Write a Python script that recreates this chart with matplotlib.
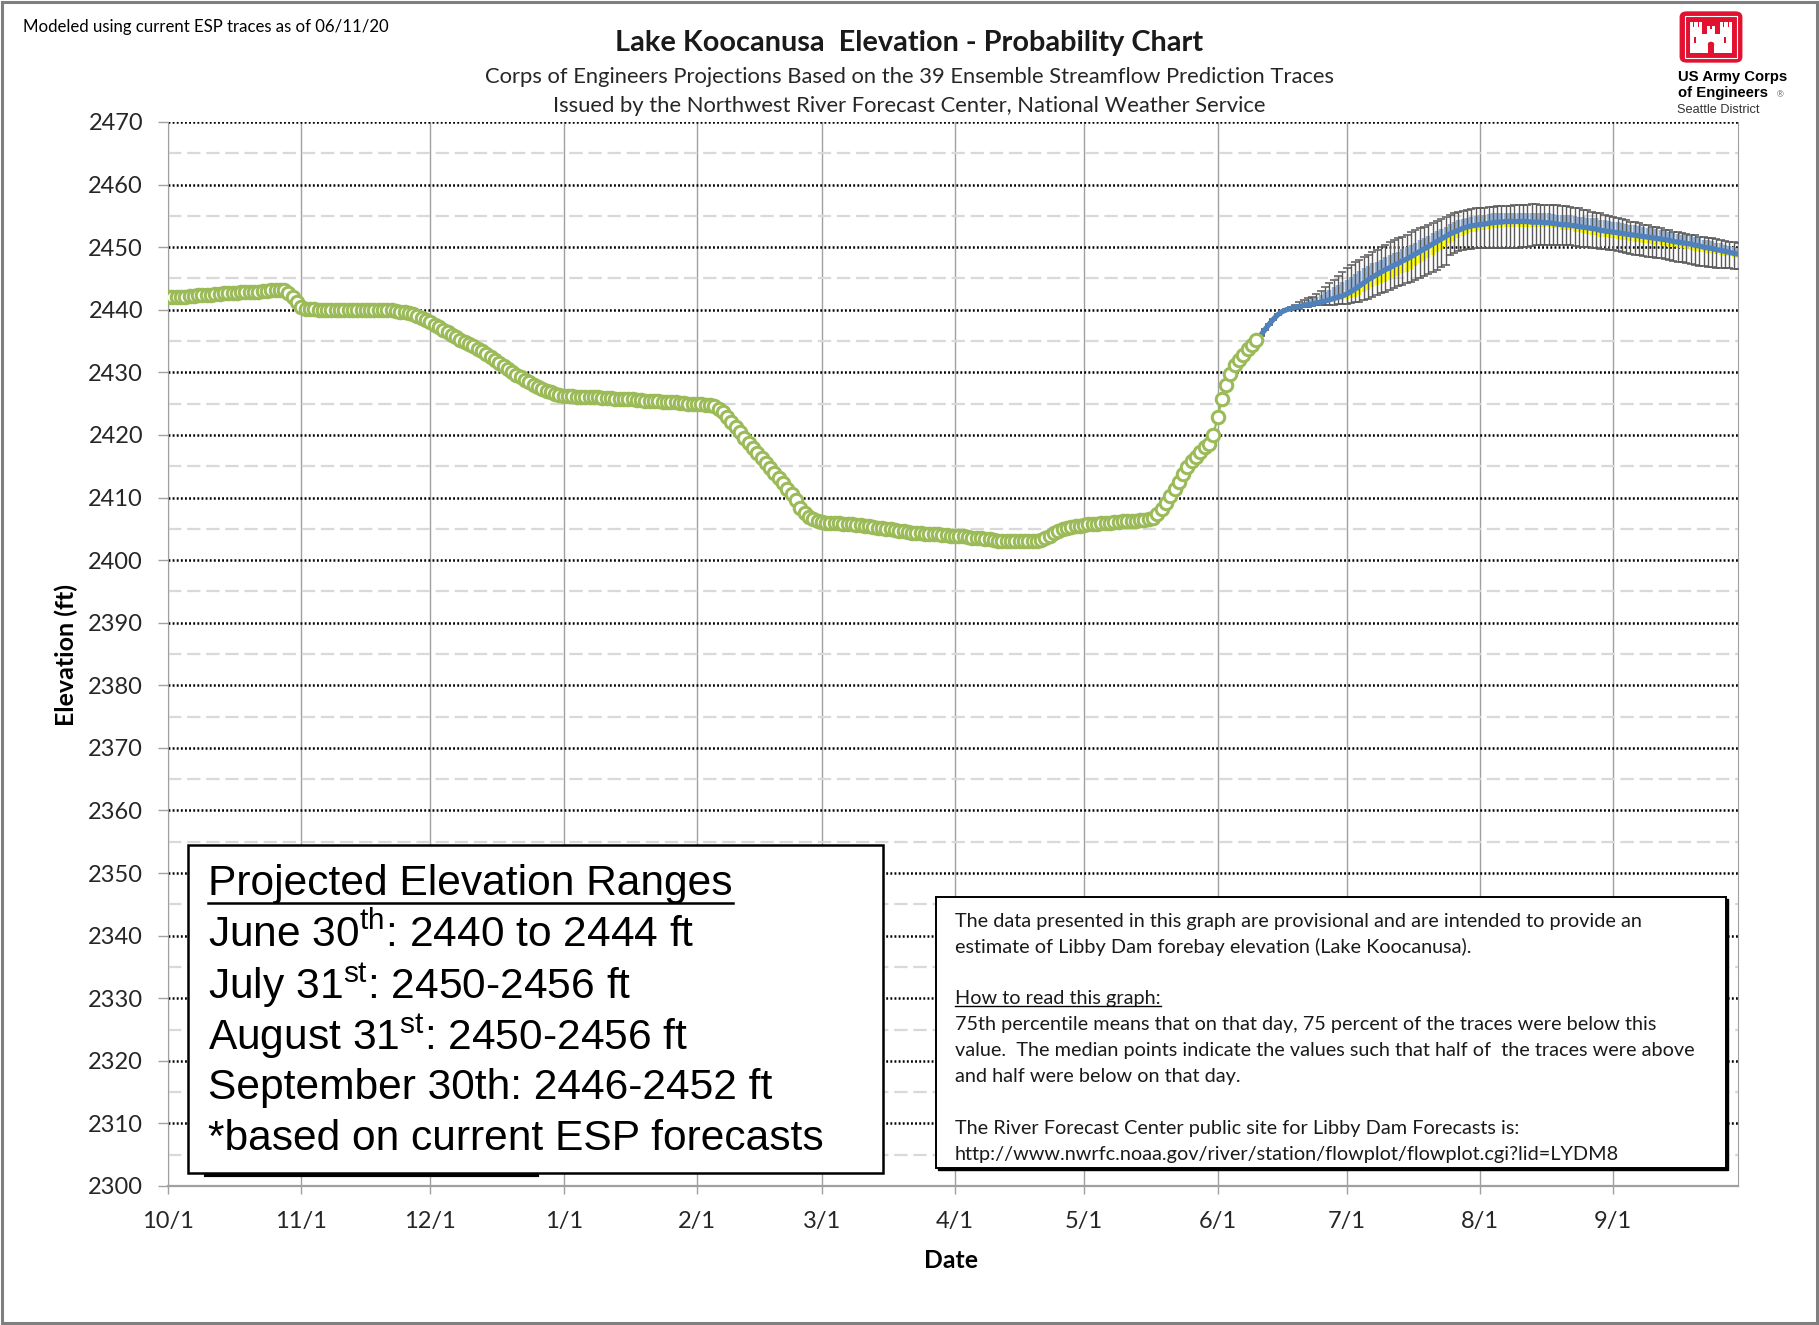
import matplotlib
matplotlib.use('Agg')
import numpy as np
import matplotlib.pyplot as plt
from matplotlib import patches, font_manager
from matplotlib.lines import Line2D

# ---------------- data ----------------
month_days = [0, 31, 61, 92, 123, 152, 183, 213, 244, 274, 305, 336]
month_labels = ['10/1', '11/1', '12/1', '1/1', '2/1', '3/1', '4/1', '5/1',
                '6/1', '7/1', '8/1', '9/1']
y_ticks = list(range(2300, 2471, 10))

# observed daily forebay elevation, day 0 = 10/1/2019
observed = [
    2442.0, 2442.0, 2442.1, 2442.1, 2442.1, 2442.2, 2442.2, 2442.3, 2442.3, 2442.4,
    2442.4, 2442.5, 2442.5, 2442.6, 2442.6, 2442.7, 2442.7, 2442.8, 2442.8, 2442.8,
    2442.9, 2442.9, 2443.0, 2443.0, 2443.1, 2443.1, 2443.2, 2443.1, 2442.7, 2442.0,
    2441.2, 2440.5, 2440.2, 2440.1, 2440.1, 2440.0, 2440.0, 2440.0, 2440.0, 2440.0,
    2440.0, 2440.0, 2439.9, 2440.0, 2440.0, 2439.9, 2439.9, 2439.9, 2440.0, 2439.9,
    2439.9, 2439.9, 2439.9, 2439.8, 2439.7, 2439.6, 2439.5, 2439.3, 2439.0, 2438.7,
    2438.4, 2438.0, 2437.6, 2437.2, 2436.8, 2436.4, 2436.0, 2435.6, 2435.2, 2434.9,
    2434.6, 2434.2, 2433.8, 2433.4, 2433.0, 2432.5, 2432.0, 2431.5, 2431.0, 2430.5,
    2430.0, 2429.6, 2429.2, 2428.8, 2428.4, 2428.0, 2427.6, 2427.3, 2427.0, 2426.8,
    2426.6, 2426.4, 2426.3, 2426.2, 2426.2, 2426.1, 2426.1, 2426.1, 2426.0, 2426.0,
    2426.0, 2425.9, 2425.9, 2425.9, 2425.8, 2425.8, 2425.7, 2425.7, 2425.7, 2425.6,
    2425.6, 2425.5, 2425.5, 2425.4, 2425.4, 2425.3, 2425.3, 2425.2, 2425.2, 2425.1,
    2425.1, 2425.0, 2425.0, 2424.9, 2424.9, 2424.8, 2424.8, 2424.6, 2424.2, 2423.6,
    2422.8, 2422.0, 2421.2, 2420.4, 2419.5, 2418.7, 2417.9, 2417.1, 2416.3, 2415.5,
    2414.7, 2413.9, 2413.1, 2412.3, 2411.4, 2410.5, 2409.6, 2408.4, 2407.5, 2406.9,
    2406.5, 2406.3, 2406.1, 2406.0, 2406.0, 2405.9, 2405.9, 2405.8, 2405.8, 2405.7,
    2405.6, 2405.6, 2405.5, 2405.4, 2405.3, 2405.2, 2405.1, 2405.0, 2404.9, 2404.8,
    2404.7, 2404.6, 2404.5, 2404.4, 2404.3, 2404.3, 2404.2, 2404.2, 2404.1, 2404.1,
    2404.0, 2404.0, 2403.9, 2403.9, 2403.8, 2403.8, 2403.7, 2403.6, 2403.6, 2403.5,
    2403.4, 2403.3, 2403.2, 2403.1, 2403.1, 2403.1, 2403.1, 2403.1, 2403.1, 2403.1,
    2403.1, 2403.1, 2403.1, 2403.2, 2403.5, 2403.9, 2404.3, 2404.7, 2405.0, 2405.2,
    2405.3, 2405.4, 2405.5, 2405.6, 2405.7, 2405.8, 2405.8, 2405.9, 2405.9, 2406.0,
    2406.1, 2406.1, 2406.2, 2406.2, 2406.3, 2406.3, 2406.4, 2406.4, 2406.5, 2406.8,
    2407.4, 2408.2, 2409.1, 2410.2, 2411.3, 2412.5, 2413.8, 2414.9, 2415.8, 2416.5,
    2417.3, 2418.0, 2418.6, 2420.0, 2422.8, 2425.7, 2428.0, 2429.7, 2431.1, 2432.0,
    2432.8, 2433.7, 2434.4, 2435.1,
]

# ESP forecast statistics, first value is day 253 (6/10)
fc_start = 253
fc_median = [
    2435.1, 2435.9, 2436.8, 2437.7, 2438.5, 2439.2, 2439.7, 2440.0, 2440.2, 2440.4,
    2440.5, 2440.7, 2440.8, 2440.9, 2441.1, 2441.2, 2441.4, 2441.6, 2441.8, 2442.0,
    2442.2, 2442.5, 2442.9, 2443.3, 2443.8, 2444.3, 2444.8, 2445.2, 2445.6, 2446.0,
    2446.4, 2446.7, 2447.1, 2447.4, 2447.8, 2448.1, 2448.5, 2448.9, 2449.3, 2449.7,
    2450.1, 2450.5, 2450.9, 2451.3, 2451.7, 2452.1, 2452.4, 2452.7, 2453.0, 2453.2,
    2453.4, 2453.5, 2453.6, 2453.7, 2453.8, 2453.9, 2454.0, 2454.0, 2454.1, 2454.1,
    2454.1, 2454.1, 2454.1, 2454.1, 2454.0, 2454.0, 2454.0, 2453.9, 2453.9, 2453.8,
    2453.7, 2453.6, 2453.6, 2453.5, 2453.4, 2453.3, 2453.2, 2453.1, 2453.0, 2452.9,
    2452.7, 2452.6, 2452.5, 2452.4, 2452.3, 2452.2, 2452.1, 2452.0, 2451.9, 2451.8,
    2451.7, 2451.6, 2451.5, 2451.4, 2451.3, 2451.2, 2451.1, 2450.9, 2450.8, 2450.7,
    2450.6, 2450.5, 2450.3, 2450.2, 2450.0, 2449.9, 2449.8, 2449.6, 2449.5, 2449.3,
    2449.2, 2449.0, 2448.9,
]
fc_p75 = [
    2435.1, 2435.9, 2436.8, 2437.7, 2438.5, 2439.2, 2439.7, 2440.1, 2440.4, 2440.7,
    2440.9, 2441.3, 2441.5, 2441.8, 2442.1, 2442.4, 2442.8, 2443.2, 2443.6, 2444.0,
    2444.4, 2444.8, 2445.3, 2445.7, 2446.2, 2446.6, 2447.0, 2447.4, 2447.7, 2448.0,
    2448.4, 2448.7, 2449.0, 2449.3, 2449.7, 2450.0, 2450.3, 2450.7, 2451.1, 2451.5,
    2451.8, 2452.2, 2452.6, 2452.9, 2453.3, 2453.7, 2454.0, 2454.3, 2454.5, 2454.7,
    2454.9, 2455.0, 2455.1, 2455.2, 2455.3, 2455.4, 2455.5, 2455.5, 2455.5, 2455.5,
    2455.5, 2455.5, 2455.5, 2455.5, 2455.5, 2455.5, 2455.5, 2455.4, 2455.4, 2455.3,
    2455.2, 2455.2, 2455.2, 2455.1, 2455.0, 2454.9, 2454.8, 2454.7, 2454.7, 2454.6,
    2454.4, 2454.3, 2454.2, 2454.1, 2454.0, 2453.8, 2453.7, 2453.6, 2453.5, 2453.4,
    2453.2, 2453.1, 2453.0, 2452.9, 2452.7, 2452.6, 2452.5, 2452.3, 2452.1, 2452.0,
    2451.9, 2451.8, 2451.6, 2451.4, 2451.2, 2451.1, 2451.0, 2450.7, 2450.6, 2450.4,
    2450.2, 2450.0, 2449.9,
]
fc_p25 = [
    2435.1, 2435.9, 2436.8, 2437.7, 2438.5, 2439.2, 2439.7, 2440.0, 2440.1, 2440.3,
    2440.3, 2440.5, 2440.5, 2440.6, 2440.8, 2440.8, 2441.0, 2441.2, 2441.3, 2441.5,
    2441.6, 2441.7, 2441.9, 2442.1, 2442.4, 2442.8, 2443.2, 2443.6, 2443.9, 2444.2,
    2444.5, 2444.7, 2445.1, 2445.4, 2445.8, 2446.1, 2446.5, 2447.0, 2447.4, 2447.8,
    2448.3, 2448.7, 2449.2, 2449.6, 2450.1, 2450.6, 2451.0, 2451.4, 2451.8, 2452.1,
    2452.4, 2452.5, 2452.7, 2452.8, 2452.9, 2453.0, 2453.1, 2453.2, 2453.3, 2453.3,
    2453.3, 2453.3, 2453.3, 2453.3, 2453.2, 2453.2, 2453.3, 2453.2, 2453.2, 2453.1,
    2453.0, 2452.8, 2452.8, 2452.7, 2452.5, 2452.4, 2452.2, 2452.1, 2452.0, 2451.9,
    2451.7, 2451.6, 2451.5, 2451.4, 2451.3, 2451.2, 2451.1, 2451.0, 2450.9, 2450.8,
    2450.7, 2450.6, 2450.5, 2450.4, 2450.3, 2450.2, 2450.1, 2450.0, 2449.9, 2449.8,
    2449.7, 2449.6, 2449.4, 2449.3, 2449.2, 2449.1, 2449.0, 2448.9, 2448.8, 2448.6,
    2448.6, 2448.4, 2448.3,
]
fc_max = [
    2435.2, 2436.0, 2436.9, 2437.8, 2438.6, 2439.3, 2439.8, 2440.1, 2440.5, 2440.8,
    2441.3, 2441.6, 2441.9, 2442.1, 2442.5, 2443.0, 2443.6, 2444.2, 2444.8, 2445.4,
    2446.0, 2446.6, 2447.1, 2447.6, 2448.0, 2448.4, 2448.8, 2449.2, 2449.6, 2450.0,
    2450.4, 2450.8, 2451.1, 2451.4, 2451.7, 2452.0, 2452.4, 2452.7, 2453.0, 2453.3,
    2453.6, 2453.9, 2454.2, 2454.5, 2454.8, 2455.1, 2455.4, 2455.6, 2455.8, 2456.0,
    2456.1, 2456.2, 2456.2, 2456.3, 2456.4, 2456.4, 2456.5, 2456.5, 2456.6, 2456.6,
    2456.7, 2456.7, 2456.8, 2456.8, 2456.9, 2456.9, 2456.8, 2456.8, 2456.8, 2456.7,
    2456.7, 2456.6, 2456.5, 2456.4, 2456.3, 2456.2, 2456.0, 2455.9, 2455.7, 2455.5,
    2455.4, 2455.2, 2455.0, 2454.8, 2454.7, 2454.5, 2454.3, 2454.1, 2454.0, 2453.8,
    2453.6, 2453.5, 2453.3, 2453.2, 2453.0, 2452.8, 2452.7, 2452.5, 2452.4, 2452.3,
    2452.1, 2452.0, 2451.9, 2451.7, 2451.6, 2451.5, 2451.4, 2451.3, 2451.1, 2451.0,
    2450.9, 2450.8, 2450.7,
]
fc_min = [
    2435.0, 2435.8, 2436.7, 2437.6, 2438.4, 2439.1, 2439.6, 2439.9, 2440.0, 2440.1,
    2440.2, 2440.4, 2440.5, 2440.6, 2440.7, 2440.7, 2440.8, 2440.8, 2440.8, 2440.9,
    2440.9, 2441.0, 2441.1, 2441.2, 2441.3, 2441.5, 2441.7, 2442.0, 2442.3, 2442.6,
    2442.9, 2443.2, 2443.5, 2443.8, 2444.0, 2444.3, 2444.5, 2444.8, 2445.1, 2445.4,
    2445.7, 2446.0, 2446.4, 2446.8, 2447.2, 2448.8, 2449.1, 2449.4, 2449.6, 2449.7,
    2449.7, 2449.8, 2449.8, 2449.8, 2449.8, 2449.8, 2449.8, 2449.8, 2449.8, 2449.8,
    2449.8, 2449.9, 2450.0, 2450.1, 2450.2, 2450.3, 2450.3, 2450.4, 2450.4, 2450.4,
    2450.4, 2450.3, 2450.3, 2450.3, 2450.2, 2450.1, 2450.1, 2450.0, 2449.9, 2449.8,
    2449.7, 2449.7, 2449.6, 2449.5, 2449.4, 2449.2, 2449.1, 2448.9, 2448.8, 2448.7,
    2448.6, 2448.5, 2448.4, 2448.3, 2448.2, 2448.1, 2448.0, 2447.8, 2447.7, 2447.6,
    2447.4, 2447.3, 2447.2, 2447.0, 2447.0, 2446.9, 2446.8, 2446.7, 2446.7, 2446.6,
    2446.6, 2446.5, 2446.5,
]

range_lines = [
    r'June 30$^{\mathrm{th}}$: 2440 to 2444 ft',
    r'July 31$^{\mathrm{st}}$: 2450-2456 ft',
    r'August 31$^{\mathrm{st}}$: 2450-2456 ft',
    'September 30th: 2446-2452 ft',
    '*based on current ESP forecasts',
]
note_lines = [
    'The data presented in this graph are provisional and are intended to provide an',
    'estimate of Libby Dam forebay elevation (Lake Koocanusa).',
    '',
    'How to read this graph:',
    '75th percentile means that on that day, 75 percent of the traces were below this',
    'value.  The median points indicate the values such that half of  the traces were above',
    'and half were below on that day.',
    '',
    'The River Forecast Center public site for Libby Dam Forecasts is:',
    'http://www.nwrfc.noaa.gov/river/station/flowplot/flowplot.cgi?lid=LYDM8',
]

# ---------------- fonts ----------------
names = {f.name for f in font_manager.fontManager.ttflist}
narrow = 'Liberation Sans Narrow' if 'Liberation Sans Narrow' in names else 'Liberation Sans'
body = 'Lato'
plt.rcParams['font.family'] = [body, 'DejaVu Sans']
plt.rcParams['mathtext.fontset'] = 'custom'
plt.rcParams['mathtext.rm'] = narrow

W, H = 1819, 1325
fig = plt.figure(figsize=(W / 100, H / 100), dpi=100)


def fx(px):
    return px / W


def fy(py):
    return 1 - py / H


ax = fig.add_axes([fx(168), fy(1186), fx(1738) - fx(168), fy(122) - fy(1186)])

obs_days = np.arange(len(observed))
fc_days = fc_start + np.arange(len(fc_median))
med = np.array(fc_median)

# forecast bands and ranges
ax.vlines(fc_days, fc_p25, fc_median, color='#FFFF00', lw=3.2, zorder=3)
ax.vlines(fc_days, fc_median, fc_p75, color='#95B3D7', lw=3.2, zorder=3)
ax.errorbar(fc_days, fc_median, yerr=[med - np.array(fc_min), np.array(fc_max) - med],
            fmt='none', ecolor='#595959', elinewidth=1.0, capsize=2.6, capthick=1.1, zorder=4)
ax.plot(fc_days, fc_median, color='#4F81BD', lw=3.8, zorder=5)

# observed
ax.plot(obs_days, observed, color='#9BBB59', lw=1.6, marker='o', ms=9.0,
        mfc='white', mec='#9BBB59', mew=2.2, zorder=6)

ax.set_xlim(0, 365)
ax.set_ylim(2300, 2470)
ax.set_xticks(month_days)
ax.set_xticklabels(month_labels)
ax.set_yticks(y_ticks)
ax.set_yticks([v + 5 for v in y_ticks[:-1]], minor=True)

ax.grid(which='major', axis='y', color='black', lw=1.8, linestyle=(0, (0.75, 0.9)))
ax.grid(which='minor', axis='y', color='#D9D9D9', lw=1.6, linestyle=(0, (6, 2.6)))
ax.grid(which='major', axis='x', color='#A0A0A0', lw=1.0)
ax.set_axisbelow(True)

ax.spines['top'].set_visible(False)
ax.spines['left'].set_color('#A0A0A0')
ax.spines['right'].set_color('#A0A0A0')
ax.spines['bottom'].set_color('#A0A0A0')
ax.spines['bottom'].set_linewidth(1.6)

ax.tick_params(axis='y', which='major', direction='out', length=7, width=1,
               color='#A0A0A0', pad=11, labelsize=17, labelcolor='#262626')
ax.tick_params(axis='y', which='minor', length=0)
ax.tick_params(axis='x', direction='out', length=6, width=1,
               color='#A0A0A0', pad=12, labelsize=17, labelcolor='#262626')

# ---------------- titles ----------------
fig.text(fx(23), fy(27), 'Modeled using current ESP traces as of 06/11/20',
         fontsize=12.1, va='center', ha='left')
fig.text(fx(909), fy(43), 'Lake Koocanusa  Elevation - Probability Chart',
         fontsize=20.8, fontweight='bold', va='center', ha='center', color='#1a1a1a')
fig.text(fx(909), fy(77), 'Corps of Engineers Projections Based on the 39 Ensemble Streamflow Prediction Traces',
         fontsize=15.8, va='center', ha='center', color='#262626')
fig.text(fx(909), fy(106), 'Issued by the Northwest River Forecast Center, National Weather Service',
         fontsize=15.8, va='center', ha='center', color='#262626')
fig.text(fx(66), fy(655), 'Elevation (ft)', rotation=90, fontsize=18, fontweight='bold',
         va='center', ha='center')
fig.text(fx(951), fy(1261), 'Date', fontsize=17.8, fontweight='bold', va='center', ha='center')

# outer frame
fig.add_artist(patches.Rectangle((0.0012, 0.0015), 0.9976, 0.9970, transform=fig.transFigure,
                                 fill=False, ec='#7F7F7F', lw=2.2, zorder=20))

# ---------------- left box ----------------
fig.add_artist(patches.Rectangle((fx(188), fy(1173)), fx(883) - fx(188), fy(845) - fy(1173),
                                 transform=fig.transFigure, fc='white', ec='black', lw=1.8, zorder=10))
fig.add_artist(Line2D([fx(206), fx(537)], [fy(1175), fy(1175)], transform=fig.transFigure,
                      color='black', lw=3, zorder=9))
t_head = fig.text(fx(208), fy(883.5), 'Projected Elevation Ranges', family=narrow, fontsize=30.6,
                  va='center', ha='left', zorder=11)
for i, s in enumerate(range_lines):
    fig.text(fx(208), fy(935 + 51.05 * i), s, family=narrow, fontsize=30.6,
             va='center', ha='left', zorder=11)

# ---------------- right box ----------------
fig.add_artist(patches.Rectangle((fx(938), fy(1170)), fx(1728) - fx(938), fy(899) - fy(1170),
                                 transform=fig.transFigure, fc='black', ec='black', lw=1, zorder=10))
fig.add_artist(patches.Rectangle((fx(936), fy(1168)), fx(1726) - fx(936), fy(897) - fy(1168),
                                 transform=fig.transFigure, fc='white', ec='black', lw=1.4, zorder=10))
note_texts = []
for i, s in enumerate(note_lines):
    t = fig.text(fx(955), fy(921 + 25.9 * i), s, fontsize=14.3, va='center', ha='left',
                 color='#1a1a1a', zorder=11)
    note_texts.append(t)

# ---------------- logo ----------------
lax = fig.add_axes([fx(1679), fy(63), fx(1743) - fx(1679), fy(11) - fy(63)])
lax.set_xlim(0, 100)
lax.set_ylim(0, 100)
lax.axis('off')
red = '#E2112F'
lax.add_patch(patches.FancyBboxPatch((2, 2), 96, 96, boxstyle='round,pad=0,rounding_size=10',
                                     fc=red, ec=red))
lax.add_patch(patches.Rectangle((9, 9), 82, 82, fill=False, ec='white', lw=0.8))
wc = 'white'
for x0 in (17, 64):  # side towers
    lax.add_patch(patches.Rectangle((x0, 20), 19, 50, fc=wc, ec='none'))
    for k in range(3):
        lax.add_patch(patches.Rectangle((x0 + k * 7, 70), 5, 8, fc=wc, ec='none'))
lax.add_patch(patches.Rectangle((36, 20), 28, 36, fc=wc, ec='none'))
lax.add_patch(patches.Rectangle((43, 56), 14, 10, fc=wc, ec='none'))
for k in range(2):
    lax.add_patch(patches.Rectangle((43 + k * 9, 66), 5, 6, fc=wc, ec='none'))
lax.add_patch(patches.Rectangle((45, 20), 10, 16, fc=red, ec='none'))
lax.add_patch(patches.Circle((50, 36), 5, fc=red, ec='none'))
for x0 in (23, 70):
    lax.add_patch(patches.Rectangle((x0, 38), 4, 12, fc=red, ec='none'))

fig.text(fx(1678), fy(77), 'US Army Corps', family='Liberation Sans', fontweight='bold',
         fontsize=10.7, va='center', ha='left')
fig.text(fx(1678), fy(93), 'of Engineers', family='Liberation Sans', fontweight='bold',
         fontsize=10.7, va='center', ha='left')
fig.text(fx(1777), fy(95), '®', family='Liberation Sans', fontsize=6.5, va='center', ha='left',
         color='#555555')
fig.text(fx(1677), fy(110), 'Seattle District', family='Liberation Sans', fontsize=9.2,
         va='center', ha='left', color='#333333')

# ---------------- underlines ----------------
fig.canvas.draw()
renderer = fig.canvas.get_renderer()


def underline(t, gap_px, lw):
    bb = t.get_window_extent(renderer)
    y = (bb.y0 - gap_px) / H
    fig.add_artist(Line2D([bb.x0 / W, bb.x1 / W], [y, y], transform=fig.transFigure,
                          color='black', lw=lw, zorder=12))


underline(t_head, -1, 1.8)
underline(note_texts[3], -1, 1.0)

fig.savefig('out.png', dpi=100)
